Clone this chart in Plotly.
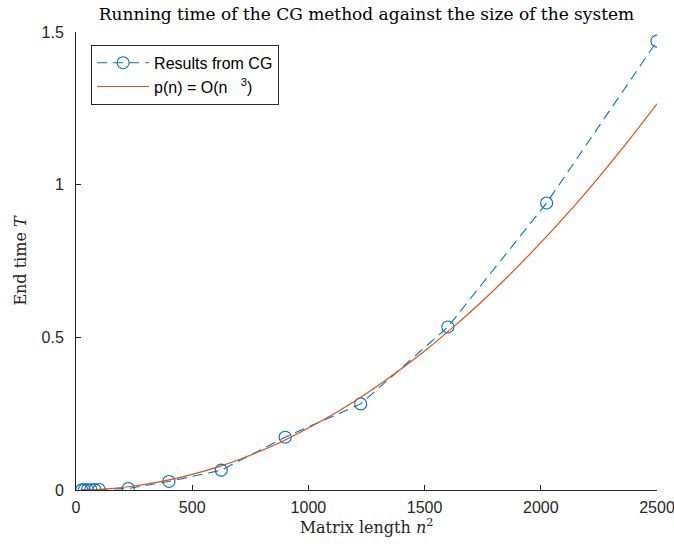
import plotly.graph_objects as go

# Data
x_cg = [25, 36, 49, 64, 81, 100, 225, 400, 625, 900, 1225, 1600, 2025, 2500]
y_cg = [0.0005, 0.0006, 0.0008, 0.001, 0.0012, 0.0015, 0.005, 0.028, 0.065, 0.173, 0.282, 0.534, 0.94, 1.47]

x_fit = [25, 125, 250, 375, 500, 625, 750, 875, 1000, 1125, 1250, 1375, 1500, 1625,
         1750, 1875, 2000, 2125, 2250, 2375, 2500]
y_fit = [0.0001, 0.003, 0.013, 0.029, 0.051, 0.079, 0.114, 0.155, 0.203, 0.256, 0.316,
         0.383, 0.455, 0.535, 0.620, 0.712, 0.810, 0.914, 1.025, 1.142, 1.265]

title_text = "Running time of the CG method against the size of the system"
xlabel = "Matrix length <i>n</i><sup>2</sup>"
ylabel = "End time <i>T</i>"
xticks = [0, 500, 1000, 1500, 2000, 2500]
yticks = [0, 0.5, 1, 1.5]
yticktext = ["0", "0.5", "1", "1.5"]

fig = go.Figure()
fig.add_trace(go.Scatter(
    x=x_cg, y=y_cg, mode="lines+markers", name="Results from CG",
    line=dict(color="#0072BD", width=1.1, dash="10px,6px"),
    marker=dict(symbol="circle-open", size=12, color="#0072BD", line=dict(width=1.1)),
))
fig.add_trace(go.Scatter(
    x=x_fit, y=y_fit, mode="lines", name="p(n) = O(n\u00a0\u00a0\u00a0<sup>3</sup>)\u00a0\u00a0",
    line=dict(color="#D95319", width=1.2, shape="spline"),
))

axis_common = dict(
    showgrid=False, zeroline=False, showline=True, linecolor="#262626", linewidth=1,
    ticks="inside", ticklen=5, tickcolor="#262626", mirror=False, automargin=False,
    ticklabeloverflow="allow",
    tickfont=dict(family="Liberation Sans, Arial, sans-serif", size=16, color="#262626"),
)
title_font = dict(family="DejaVu Serif, Liberation Serif, serif", size=16, color="#262626")

fig.update_layout(
    width=674, height=544,
    margin=dict(l=76, r=17, t=32, b=54),
    paper_bgcolor="white", plot_bgcolor="white",
    title=dict(text=title_text, xref="paper", x=0.5, xanchor="center",
               yref="container", y=0.975, yanchor="middle",
               font=dict(family="DejaVu Serif, Liberation Serif, serif", size=17, color="black")),
    xaxis=dict(range=[0, 2500], tickvals=xticks, ticktext=[str(v) for v in xticks],
               ticklabelstandoff=3,
               title=dict(text=xlabel, standoff=6, font=title_font),
               **axis_common),
    yaxis=dict(range=[0, 1.5], tickvals=yticks, ticktext=yticktext,
               ticklabelstandoff=8,
               title=dict(text=ylabel, standoff=10, font=title_font),
               **axis_common),
    legend=dict(x=0.026, y=0.972, xanchor="left", yanchor="top",
                bgcolor="white", bordercolor="#262626", borderwidth=1,
                font=dict(family="Liberation Sans, Arial, sans-serif", size=16, color="black"),
                tracegroupgap=0, itemwidth=52),
    showlegend=True,
)

fig.write_html("out.html")
